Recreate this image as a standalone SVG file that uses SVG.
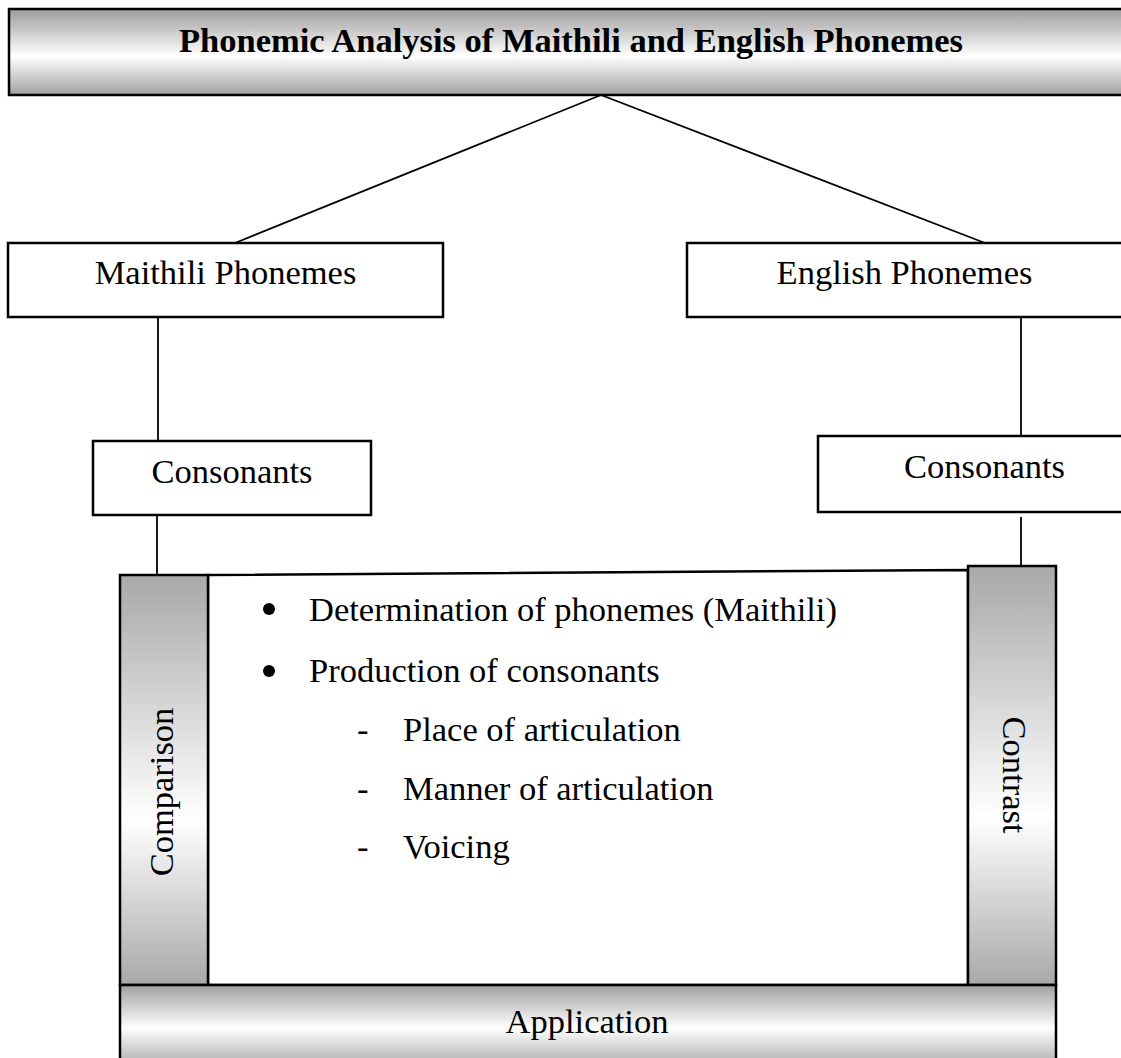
<svg xmlns="http://www.w3.org/2000/svg" width="1121" height="1058" viewBox="0 0 1121 1058">
  <defs>
    <linearGradient id="shadeBand" x1="0" y1="0" x2="0" y2="1">
      <stop offset="0" stop-color="#9c9c9c"/>
      <stop offset="0.55" stop-color="#ffffff"/>
      <stop offset="1" stop-color="#a0a0a0"/>
    </linearGradient>
    <linearGradient id="shadeBar" x1="0" y1="0" x2="0" y2="1">
      <stop offset="0" stop-color="#a8a8a8"/>
      <stop offset="0.6" stop-color="#ffffff"/>
      <stop offset="1" stop-color="#a8a8a8"/>
    </linearGradient>
    <linearGradient id="shadeBase" x1="0" y1="0" x2="0" y2="1">
      <stop offset="0" stop-color="#a0a0a0"/>
      <stop offset="0.5" stop-color="#ffffff"/>
      <stop offset="1" stop-color="#a0a0a0"/>
    </linearGradient>
    <style>
      .box { fill: #ffffff; stroke: #000000; stroke-width: 2.5; }
      .band { fill: url(#shadeBand); stroke: #000000; stroke-width: 2.5; }
      .bar { fill: url(#shadeBar); stroke: #000000; stroke-width: 2.5; }
      .base { fill: url(#shadeBase); stroke: #000000; stroke-width: 2.5; }
      .link { fill: none; stroke: #000000; stroke-width: 1.8; }
      .lbl { font-family: "Liberation Serif", "Times New Roman", serif; font-size: 34.5px; fill: #000000; }
      .mid { text-anchor: middle; }
      .title { font-weight: bold; }
    </style>
  </defs>
  <rect width="1121" height="1058" fill="#ffffff"/>

  <!-- connectors -->
  <g id="connectors">
    <line class="link" x1="601" y1="95" x2="235" y2="243"/>
    <line class="link" x1="601" y1="95" x2="985" y2="243"/>
    <line class="link" x1="158" y1="317" x2="158" y2="441"/>
    <line class="link" x1="1021" y1="317" x2="1021" y2="440"/>
    <line class="link" x1="157" y1="515" x2="157" y2="575"/>
    <line class="link" x1="1021" y1="517" x2="1021" y2="571"/>
  </g>

  <!-- title banner -->
  <g id="title">
    <rect class="band" x="9" y="9" width="1130" height="86"/>
    <text class="lbl mid title" x="571" y="52">Phonemic Analysis of Maithili and English Phonemes</text>
  </g>

  <g id="maithili">
    <rect class="box" x="8" y="243" width="435" height="74"/>
    <text class="lbl mid" x="225.5" y="284">Maithili Phonemes</text>
  </g>

  <g id="english">
    <rect class="box" x="687" y="243" width="440" height="74"/>
    <text class="lbl mid" x="904.5" y="284">English Phonemes</text>
  </g>

  <g id="consonants-maithili">
    <rect class="box" x="93" y="441" width="278" height="74"/>
    <text class="lbl mid" x="232" y="483">Consonants</text>
  </g>

  <g id="consonants-english">
    <rect class="box" x="818" y="436" width="330" height="76"/>
    <text class="lbl" x="904" y="478">Consonants</text>
  </g>

  <!-- central content panel -->
  <g id="content">
    <path class="box" d="M208,575 L968,570 L968,985 L208,985 Z"/>
    <circle cx="269" cy="609" r="6"/>
    <circle cx="269" cy="671" r="6"/>
    <text class="lbl" x="309" y="621">Determination of phonemes (Maithili)</text>
    <text class="lbl" x="309" y="682">Production of consonants</text>
    <text class="lbl" x="357" y="741">-</text>
    <text class="lbl" x="403" y="741">Place of articulation</text>
    <text class="lbl" x="357" y="800">-</text>
    <text class="lbl" x="403" y="800">Manner of articulation</text>
    <text class="lbl" x="357" y="858">-</text>
    <text class="lbl" x="403" y="858">Voicing</text>
  </g>

  <g id="comparison">
    <rect class="bar" x="120" y="575" width="88" height="410"/>
    <text class="lbl mid" transform="translate(173,792) rotate(-90)">Comparison</text>
  </g>

  <g id="contrast">
    <rect class="bar" x="968" y="566" width="88" height="419"/>
    <text class="lbl mid" transform="translate(1003,775) rotate(90)">Contrast</text>
  </g>

  <g id="application">
    <rect class="base" x="120" y="985" width="936" height="86"/>
    <text class="lbl mid" x="587" y="1033">Application</text>
  </g>
</svg>
